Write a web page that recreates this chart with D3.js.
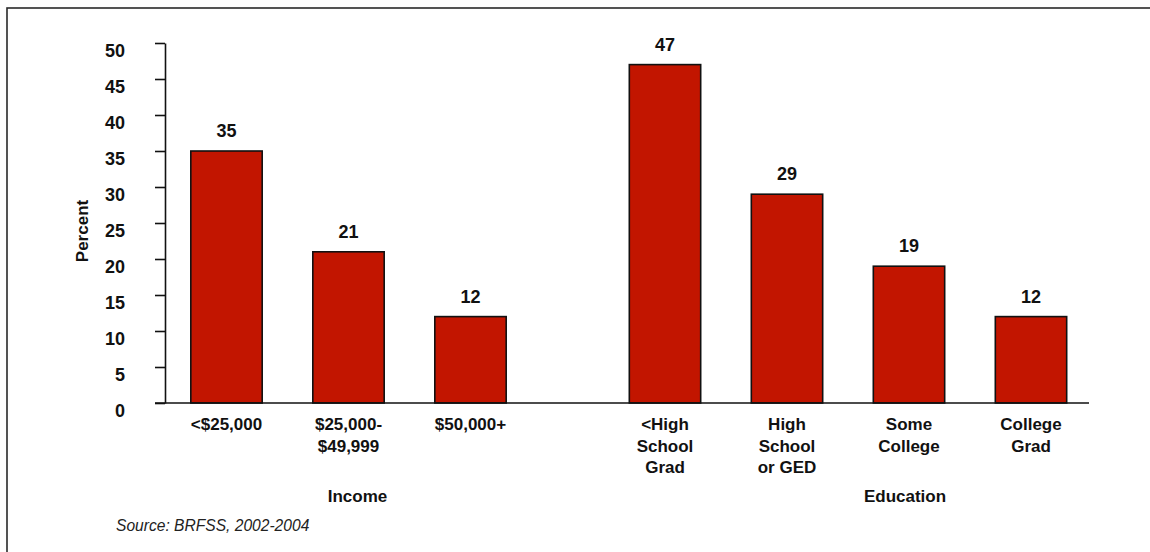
<!DOCTYPE html>
<html>
<head>
<meta charset="utf-8">
<script src="https://cdn.jsdelivr.net/npm/d3@7"></script>
<style>
  html, body { margin: 0; padding: 0; background: #fff; }
  svg { display: block; font-family: "Liberation Sans", Arial, sans-serif; }
</style>
</head>
<body>
<svg id="chart" width="1150" height="552"></svg>
<script>
// Income and education groups, percent per category
const incomeCats = ["<$25,000", "$25,000-\n$49,999", "$50,000+"];
const incomeVals = [35, 21, 12];
const eduCats = ["<High\nSchool\nGrad", "High\nSchool\nor GED", "Some\nCollege", "College\nGrad"];
const eduVals = [47, 29, 19, 12];
const yTicks = [0, 5, 10, 15, 20, 25, 30, 35, 40, 45, 50];
const groupTitles = ["Income", "Education"];
const yTitle = "Percent";
const sourceNote = "Source: BRFSS, 2002-2004";

const svg = d3.select("#chart");
const barFill = "#c21500";

// frame (top and left edges visible)
svg.append("rect")
  .attr("x", 7).attr("y", 8).attr("width", 1300).attr("height", 700)
  .attr("fill", "none").attr("stroke", "#2a2a2a").attr("stroke-width", 1.6);

const y = d3.scaleLinear().domain([0, 50]).range([403, 43]);

const pIn = 0.415;
const xInc = d3.scaleBand().domain(incomeCats).range([165.5, 531.5])
  .paddingInner(pIn).paddingOuter(pIn / 2);
const xEdu = d3.scaleBand().domain(eduCats).range([604, 1092])
  .paddingInner(pIn).paddingOuter(pIn / 2);

const groups = [
  { title: groupTitles[0], cats: incomeCats, vals: incomeVals, x: xInc },
  { title: groupTitles[1], cats: eduCats, vals: eduVals, x: xEdu }
];

// y axis
const yAxis = svg.append("g")
  .attr("transform", "translate(165,0)")
  .call(d3.axisLeft(y).tickValues(yTicks).tickSize(10).tickSizeOuter(0).tickPadding(30));
yAxis.select(".domain").attr("stroke", "#111").attr("stroke-width", 1.6);
yAxis.selectAll(".tick line").attr("stroke", "#111").attr("stroke-width", 1.6);
yAxis.selectAll(".tick text")
  .attr("dy", "0.74em")
  .attr("fill", "#111")
  .style("font-size", "18px")
  .style("font-weight", "bold");

// bars, value labels, category labels
groups.forEach(g => {
  const data = g.cats.map((c, i) => ({ cat: c, val: g.vals[i] }));
  const bw = g.x.bandwidth();

  svg.append("g").selectAll("rect").data(data).join("rect")
    .attr("x", d => g.x(d.cat))
    .attr("y", d => y(d.val))
    .attr("width", bw)
    .attr("height", d => y(0) - y(d.val))
    .attr("fill", barFill)
    .attr("stroke", "#111")
    .attr("stroke-width", 1.6);

  svg.append("g").selectAll("text").data(data).join("text")
    .attr("x", d => g.x(d.cat) + bw / 2)
    .attr("y", d => y(d.val) - 14)
    .attr("text-anchor", "middle")
    .attr("fill", "#111")
    .style("font-size", "18px")
    .style("font-weight", "bold")
    .text(d => d.val);

  const lab = svg.append("g").selectAll("text").data(data).join("text")
    .attr("text-anchor", "middle")
    .attr("fill", "#111")
    .style("font-size", "17px")
    .style("font-weight", "bold");
  lab.each(function (d) {
    const t = d3.select(this);
    d.cat.split("\n").forEach((line, i) => {
      t.append("tspan")
        .attr("x", g.x(d.cat) + bw / 2)
        .attr("y", 430 + i * 21.5)
        .text(line);
    });
  });
});

// baseline
svg.append("line")
  .attr("x1", 155).attr("x2", 1089)
  .attr("y1", y(0)).attr("y2", y(0))
  .attr("stroke", "#111").attr("stroke-width", 1.6);

// group titles
const incMid = xInc(incomeCats[1]) + xInc.bandwidth() / 2 + 9;
const eduMid = xEdu(eduCats[2]) + xEdu.bandwidth() / 2 - 4;
[[groupTitles[0], incMid], [groupTitles[1], eduMid]].forEach(([t, cx]) => {
  svg.append("text")
    .attr("x", cx).attr("y", 502)
    .attr("text-anchor", "middle")
    .attr("fill", "#111")
    .style("font-size", "17px")
    .style("font-weight", "bold")
    .text(t);
});

// y title
svg.append("text")
  .attr("transform", "translate(88,231) rotate(-90)")
  .attr("text-anchor", "middle")
  .attr("fill", "#111")
  .style("font-size", "17px")
  .style("font-weight", "bold")
  .text(yTitle);

// source note
svg.append("text")
  .attr("x", 116).attr("y", 531)
  .attr("fill", "#222")
  .style("font-size", "15.6px")
  .style("font-style", "italic")
  .text(sourceNote);
</script>
</body>
</html>
